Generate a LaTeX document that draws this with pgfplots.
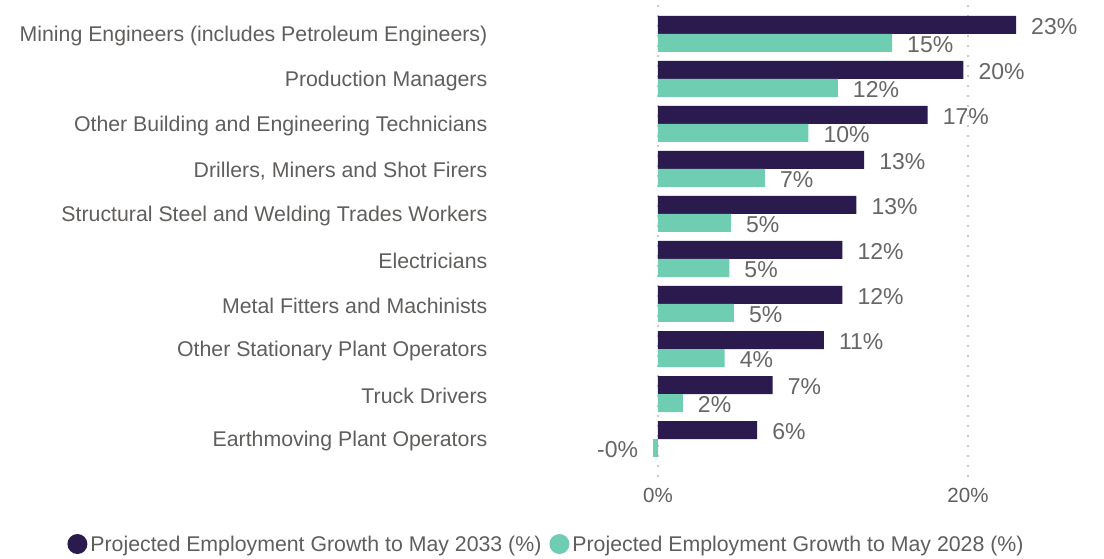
\documentclass[border=0pt]{standalone}
\usepackage{fontspec}
\setmainfont{Liberation Sans}
\usepackage{pgfplots}
\pgfplotsset{compat=1.18}
\definecolor{navy}{HTML}{2B1A4E}
\definecolor{teal2}{HTML}{6FCDB2}
\definecolor{txt}{HTML}{605E5C}
\definecolor{lbl}{HTML}{666666}
\definecolor{gridc}{HTML}{C8C8C8}
\pgfplotsset{mylegend/.style={legend image code/.code={\fill[##1] (10pt,1pt) circle (10pt);}}}
\begin{document}
\begin{tikzpicture}
\begin{axis}[
 scale only axis, width=615.35pt, height=472pt,
 xmin=-11, xmax=28.7, ymin=-0.844, ymax=9.644,
 xbar, bar width=18pt,
 axis line style={draw=none}, major tick length=0pt,
 xtick={0,20}, xticklabels={0\%,20\%},
 xmajorgrids, grid style={gridc, line width=1.5pt, dash pattern=on 1.5pt off 8.5pt},
 ytick={0,...,9},
 yticklabels={Earthmoving Plant Operators, Truck Drivers, Other Stationary Plant Operators, Metal Fitters and Machinists, Electricians, {Structural Steel and Welding Trades Workers}, {Drillers, Miners and Shot Firers}, Other Building and Engineering Technicians, Production Managers, Mining Engineers (includes Petroleum Engineers)},
 yticklabel style={font=\fontsize{21.3}{24}\selectfont, text=txt, anchor=east, inner xsep=0pt, yshift=-2pt},
 xticklabel style={font=\fontsize{20.5}{24}\selectfont, text=txt, yshift=-8pt},
 point meta=explicit symbolic,
 nodes near coords={\pgfplotspointmeta\%},
 every node near coord/.append style={font=\fontsize{23}{24}\selectfont, text=lbl, anchor=west, inner xsep=15pt, inner ysep=0pt, yshift=-1.5pt},
 legend columns=2,
 legend style={draw=none, fill=none, at={(-0.683,-0.142)}, anchor=west,
   font=\fontsize{21.3}{24}\selectfont, text=txt, inner sep=0pt,
   /tikz/every odd column/.append style={column sep=3pt},
   /tikz/every even column/.append style={column sep=8pt},
   nodes={inner xsep=0pt, inner ysep=0pt}},
]
\coordinate (O) at (rel axis cs:0,0);
\addplot[draw=none, fill=navy, bar shift=9pt, mylegend] coordinates {
 (6.4,0) [6] (7.4,1) [7] (10.7,2) [11] (11.9,3) [12] (11.9,4) [12]
 (12.8,5) [13] (13.3,6) [13] (17.4,7) [17] (19.7,8) [20] (23.1,9) [23]};
\addlegendentry{Projected Employment Growth to May 2033 (\%)}
\addplot[draw=none, fill=teal2, bar shift=-9pt, mylegend] coordinates {
 (1.6,1) [2] (4.3,2) [4] (4.9,3) [5] (4.6,4) [5]
 (4.7,5) [5] (6.9,6) [7] (9.7,7) [10] (11.6,8) [12] (15.1,9) [15]};
\addlegendentry{Projected Employment Growth to May 2028 (\%)}
\addplot[draw=none, fill=teal2, bar shift=-9pt, forget plot,
 every node near coord/.append style={anchor=east}] coordinates {(-0.3,0) [-0]};
\end{axis}
\pgfresetboundingbox
\path ([shift={(-487.5pt,-82pt)}]O) rectangle ([shift={(616.5pt,477pt)}]O);
\end{tikzpicture}
\end{document}
